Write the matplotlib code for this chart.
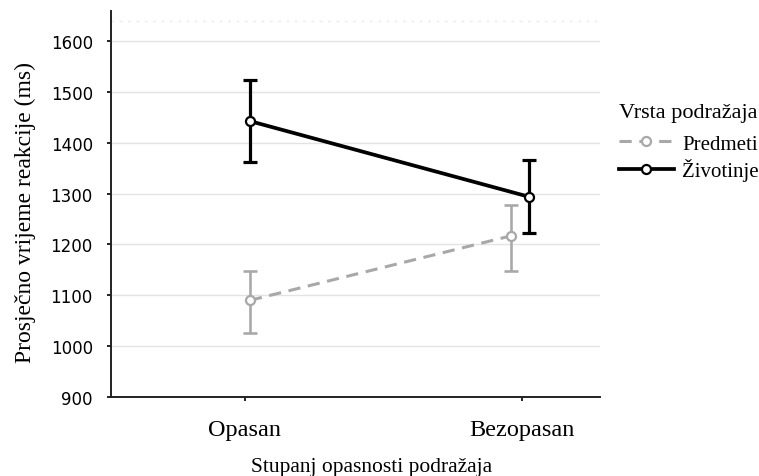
import matplotlib.pyplot as plt

categories = ['Opasan', 'Bezopasan']
series_names = ['Predmeti', 'Životinje']
predmeti_mean = [1090, 1217]
predmeti_lo = [1025, 1147]
predmeti_hi = [1148, 1278]
zivotinje_mean = [1443, 1294]
zivotinje_lo = [1363, 1222]
zivotinje_hi = [1524, 1366]

# small horizontal dodge as in the original figure
predmeti_x = [0.018, 0.96]
zivotinje_x = [0.018, 1.025]

serif = 'Liberation Serif'
sans = 'DejaVu Sans'

fig = plt.figure(figsize=(7.59, 4.77), dpi=100)
ax = fig.add_axes([0.146, 0.166, 0.644, 0.809])

for y in [1000, 1100, 1200, 1300, 1400, 1500, 1600]:
    ax.axhline(y, color='#e3e3e3', lw=1.0, zorder=0)
ax.axhline(1640, color='#ececec', lw=1.0, ls=(0, (2, 4)), zorder=0)

def draw(xs, mean, lo, hi, color, ls, lw, label):
    err = [[m - l for m, l in zip(mean, lo)], [h - m for m, h in zip(mean, hi)]]
    ax.errorbar(xs, mean, yerr=err, fmt='none', ecolor=color, elinewidth=lw * 0.85,
                capsize=5, capthick=lw * 0.85, zorder=2)
    ax.plot(xs, mean, color=color, ls=ls, lw=lw, marker='o', markersize=6.5,
            markerfacecolor='white', markeredgecolor=color, markeredgewidth=1.6,
            label=label, zorder=3)

draw(predmeti_x, predmeti_mean, predmeti_lo, predmeti_hi, '#a8a8a8', (0, (4, 2.5)), 2.2, series_names[0])
draw(zivotinje_x, zivotinje_mean, zivotinje_lo, zivotinje_hi, '#000000', '-', 2.7, series_names[1])

ax.set_xlim(-0.484, 1.28)
ax.set_ylim(900, 1660)
ax.set_xticks([0, 1])
ax.set_xticklabels(categories, fontfamily=serif, fontsize=17.5)
ax.set_yticks([900, 1000, 1100, 1200, 1300, 1400, 1500, 1600])
for t in ax.get_yticklabels():
    t.set_fontfamily(sans)
    t.set_fontsize(12)
ax.tick_params(axis='x', length=3, width=1.2, pad=13)
ax.tick_params(axis='y', length=3, width=1.2, pad=10)

for s in ['top', 'right']:
    ax.spines[s].set_visible(False)
for s in ['left', 'bottom']:
    ax.spines[s].set_linewidth(1.4)
    ax.spines[s].set_color('#222222')

fig.text(0.034, 0.555, 'Prosječno vrijeme reakcije (ms)', fontfamily=serif, fontsize=17,
         rotation=90, ha='center', va='center')
fig.text(0.49, 0.019, 'Stupanj opasnosti podražaja', fontfamily=serif, fontsize=15.5,
         ha='center', va='center')

leg = ax.legend(loc='upper left', bbox_to_anchor=(1.022, 0.784), frameon=False,
                title='Vrsta podražaja', handlelength=2.65, handletextpad=0.4,
                labelspacing=0.22, borderaxespad=0,
                prop={'family': serif, 'size': 15})
leg.get_title().set_fontfamily(serif)
leg.get_title().set_fontsize(16)
leg._legend_box.align = 'left'
leg._legend_box.sep = 9

fig.savefig('out.png', dpi=100)
